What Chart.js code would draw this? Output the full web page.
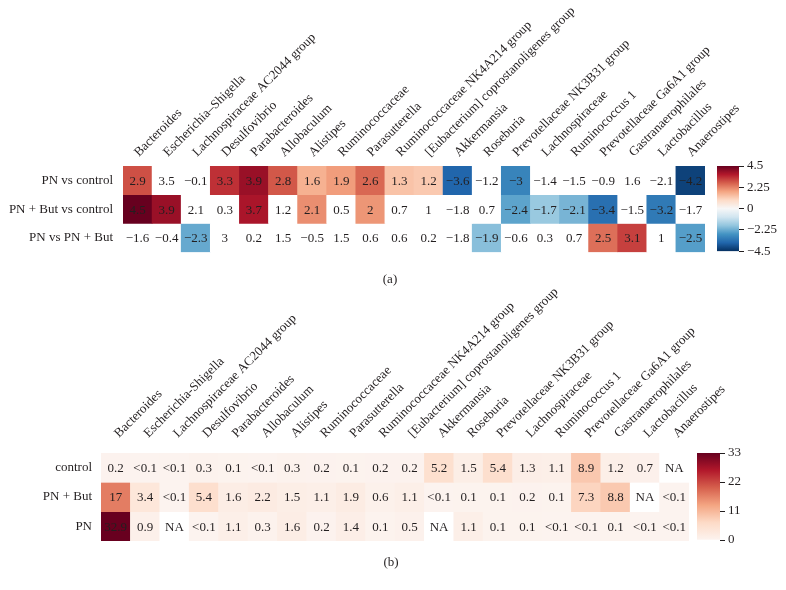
<!DOCTYPE html>
<html><head><meta charset="utf-8">
<script src="https://cdn.jsdelivr.net/npm/chart.js@4/dist/chart.umd.min.js"></script>
<style>
html,body{margin:0;padding:0;background:#fff;width:786px;height:590px;overflow:hidden;}
canvas{position:absolute;}
.cap{position:absolute;font:13px "Liberation Serif",serif;color:#231f20;width:60px;text-align:center;line-height:15px;}
</style></head><body>
<canvas id="hA" width="786" height="270" style="left:0;top:0"></canvas>
<canvas id="cA" width="81" height="262" style="left:705px;top:0"></canvas>
<canvas id="hB" width="786" height="290" style="left:0;top:270px"></canvas>
<canvas id="cB" width="97" height="290" style="left:689px;top:270px"></canvas>
<div class="cap" style="left:360px;top:271px">(a)</div>
<div class="cap" style="left:361px;top:554px">(b)</div>
<script>
// ---------- data ----------
const taxaA = ["Bacteroides","Escherichia–Shigella","Lachnospiraceae AC2044 group","Desulfovibrio","Parabacteroides","Allobaculum","Alistipes","Ruminococcaceae","Parasutterella","Ruminococcaceae NK4A214 group","[Eubacterium] coprostanoligenes group","Akkermansia","Roseburia","Prevotellaceae NK3B31 group","Lachnospiraceae","Ruminococcus 1","Prevotellaceae Ga6A1 group","Gastranaerophilales","Lactobacillus","Anaerostipes"];
const taxaB = ["Bacteroides","Escherichia-Shigella","Lachnospiraceae AC2044 group","Desulfovibrio","Parabacteroides","Allobaculum","Alistipes","Ruminococcaceae","Parasutterella","Ruminococcaceae NK4A214 group","[Eubacterium] coprostanoligenes group","Akkermansia","Roseburia","Prevotellaceae NK3B31 group","Lachnospiraceae","Ruminococcus 1","Prevotellaceae Ga6A1 group","Gastranaerophilales","Lactobacillus","Anaerostipes"];

const rowsA = ["PN vs control","PN + But vs control","PN vs PN + But"];
const pnVsControl    = [2.9, 3.5, -0.1, 3.3, 3.9, 2.8, 1.6, 1.9, 2.6, 1.3, 1.2, -3.6, -1.2, -3, -1.4, -1.5, -0.9, 1.6, -2.1, -4.2];
const pnButVsControl = [4.5, 3.9, 2.1, 0.3, 3.7, 1.2, 2.1, 0.5, 2, 0.7, 1, -1.8, 0.7, -2.4, -1.7, -2.1, -3.4, -1.5, -3.2, -1.7];
const pnVsPnBut      = [-1.6, -0.4, -2.3, 3, 0.2, 1.5, -0.5, 1.5, 0.6, 0.6, 0.2, -1.8, -1.9, -0.6, 0.3, 0.7, 2.5, 3.1, 1, -2.5];
// 1 = coloured (significant) cell, 0 = shown white
const sigPnVsControl    = [1,0,0,1,1,1,1,1,1,1,1,1,0,1,0,0,0,0,0,1];
const sigPnButVsControl = [1,1,0,0,1,0,1,0,1,0,0,0,0,1,1,1,1,0,1,0];
const sigPnVsPnBut      = [0,0,1,0,0,0,0,0,0,0,0,0,1,0,0,0,1,1,0,1];

const rowsB = ["control","PN + But","PN"];
const abControl = ["0.2","<0.1","<0.1","0.3","0.1","<0.1","0.3","0.2","0.1","0.2","0.2","5.2","1.5","5.4","1.3","1.1","8.9","1.2","0.7","NA"];
const abPnBut   = ["17","3.4","<0.1","5.4","1.6","2.2","1.5","1.1","1.9","0.6","1.1","<0.1","0.1","0.1","0.2","0.1","7.3","8.8","NA","<0.1"];
const abPn      = ["32.9","0.9","NA","<0.1","1.1","0.3","1.6","0.2","1.4","0.1","0.5","NA","1.1","0.1","0.1","<0.1","<0.1","0.1","<0.1","<0.1"];

const ticksA = [-4.5, -2.25, 0, 2.25, 4.5];
const ticksB = [0, 11, 22, 33];

// ---------- colours ----------
const RdBu = ['#053061','#2166ac','#4393c3','#92c5de','#d1e5f0','#f7f7f7','#fddbc7','#f4a582','#d6604d','#b2182b','#67001f'];
const Reds = ['#fcf3ef','#fddbc7','#f4a582','#d6604d','#b2182b','#67001f'];
function hex(h){return [1,3,5].map(i=>parseInt(h.substr(i,2),16));}
function lerp(stops,t){
  t=Math.max(0,Math.min(1,t));
  const p=t*(stops.length-1), i=Math.min(Math.floor(p),stops.length-2), f=p-i;
  const a=hex(stops[i]), b=hex(stops[i+1]);
  return 'rgb('+a.map((v,k)=>Math.round(v+(b[k]-v)*f)).join(',')+')';
}
const colA = (v,s)=> s ? lerp(RdBu,(v+4.5)/9) : '#ffffff';
const numB = s => s==='NA' ? null : (s==='<0.1' ? 0.05 : parseFloat(s));
const colB = s => { const v=numB(s); return v===null ? '#ffffff' : lerp(Reds, v/33); };
const fmt = v => String(v).replace('-', '\u2212');

const FONT = 'Liberation Serif';
const INK = '#231f20';

const cellText = {
  id:'cellText',
  afterDatasetsDraw(chart, args, opts){
    const ctx=chart.ctx; ctx.save();
    ctx.font = opts.size+'px "'+FONT+'"'; ctx.fillStyle=INK; ctx.textAlign='center'; ctx.textBaseline='middle';
    chart.data.datasets.forEach((ds,i)=>{
      chart.getDatasetMeta(i).data.forEach((el,j)=>{
        const c=el.getCenterPoint(); ctx.fillText(ds.texts[j], c.x, c.y+1);
      });
    });
    ctx.restore();
  }
};

function heatmap(id, labels, rowLabels, texts, colors, g){
  new Chart(document.getElementById(id), {
    type:'bar',
    data:{labels, datasets: rowLabels.map((name,r)=>({
      label:name, data: labels.map(()=>[r, r+1]), texts: texts[r], backgroundColor: colors[r],
      borderWidth:0, barPercentage:1, categoryPercentage:1, grouped:false
    }))},
    options:{
      responsive:false, animation:false, events:[],
      layout:{padding:{left:0, top:0, right:g.right, bottom:g.bottom}},
      plugins:{legend:{display:false}, tooltip:{enabled:false}, cellText:{size:13}},
      scales:{
        x:{type:'category', position:'top', grid:{display:false, drawTicks:false}, border:{display:false},
           ticks:{autoSkip:false, minRotation:45, maxRotation:45, padding:g.tickPad, labelOffset:g.labelOffset, color:INK, font:{family:FONT, size:13}},
           afterFit(s){ s.height = g.top; }},
        y:{type:'linear', min:0, max:rowLabels.length, reverse:true, grid:{display:false, drawTicks:false}, border:{display:false},
           afterBuildTicks(s){ s.ticks = rowLabels.map((_,i)=>({value:i+0.5})); },
           ticks:{padding:g.rowPad, color:INK, font:{family:FONT, size:13}, callback:(v,i)=>rowLabels[i]},
           afterFit(s){ s.width = g.left; }}
      }
    },
    plugins:[cellText]
  });
}

function colorbar(id, stops, ticks, g){
  const min=ticks[0], max=ticks[ticks.length-1];
  new Chart(document.getElementById(id), {
    type:'bar',
    data:{labels:[''], datasets:[{data:[[min,max]], borderWidth:0, barPercentage:1, categoryPercentage:1,
      backgroundColor:(c)=>{
        const ca=c.chart.chartArea; if(!ca) return '#fff';
        const gr=c.chart.ctx.createLinearGradient(0, ca.bottom, 0, ca.top);
        stops.forEach((s,i)=>gr.addColorStop(i/(stops.length-1), s));
        return gr;
      }}]},
    options:{
      responsive:false, animation:false, events:[],
      layout:{padding:{left:g.left, top:g.top, right:0, bottom:g.bottom}},
      plugins:{legend:{display:false}, tooltip:{enabled:false}},
      scales:{
        x:{display:false},
        y:{position:'right', min, max,
           afterBuildTicks(s){ s.ticks = ticks.map(v=>({value:v})); },
           grid:{drawOnChartArea:false, drawTicks:true, tickLength:5, color:INK, lineWidth:1}, border:{display:false},
           ticks:{padding:3, color:INK, font:{family:FONT, size:13}, callback:v=>fmt(v)},
           afterFit(s){ s.width = g.axisW; }}
      }
    }
  });
}

const valsA = [pnVsControl, pnButVsControl, pnVsPnBut];
const sigA  = [sigPnVsControl, sigPnButVsControl, sigPnVsPnBut];
heatmap('hA', taxaA, rowsA, valsA.map(r=>r.map(fmt)), valsA.map((r,i)=>r.map((v,j)=>colA(v,sigA[i][j]))),
  {left:123, top:166, right:81, bottom:0, tickPad:6, labelOffset:10, rowPad:10});
colorbar('cA', RdBu, ticksA, {left:12, top:166, bottom:9, axisW:47});

const valsB = [abControl, abPnBut, abPn];
heatmap('hB', taxaB, rowsB, valsB, valsB.map(r=>r.map(colB)),
  {left:101, top:183, right:97, bottom:19, tickPad:12, labelOffset:12, rowPad:9});
colorbar('cB', Reds, ticksB, {left:8, top:183, bottom:20, axisW:66});
</script>
</body></html>
